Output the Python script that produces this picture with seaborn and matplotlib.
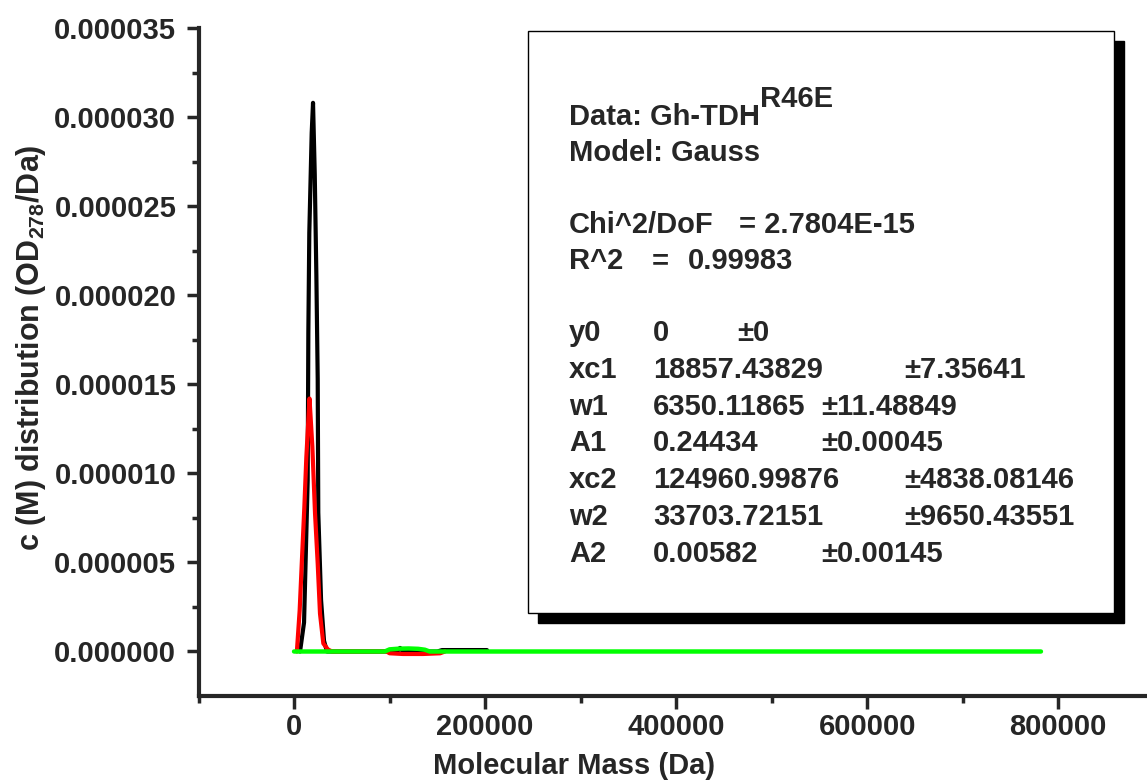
import seaborn as sns
import matplotlib.pyplot as plt
import matplotlib.ticker as mticker
from matplotlib.patches import Rectangle

# c(M) curves (Da, OD278/Da)
black_mass = [6300, 10500, 14300, 15000, 16000, 18500, 19900, 21700, 23400, 24800,
              25400, 28300, 31400, 34500, 100000, 108000, 111000, 114000, 150000, 155000, 202000]
black_c = [0, 1.63e-6, 9.6e-6, 1.79e-5, 2.35e-5, 2.91e-5, 3.08e-5, 2.68e-5, 2.11e-5, 1.53e-5,
           7.8e-6, 2.9e-6, 6e-7, 0, 0, 0, 2.0e-7, 0, 0, 8e-8, 8e-8]

red_mass = [3000, 5900, 8400, 10800, 12900, 15000, 16200, 19200, 22000, 24800,
            27200, 30700, 35600, 39800, 97000, 100000, 114000, 135000, 153000, 158000]
red_c = [0, 2.30e-6, 5.28e-6, 8.09e-6, 1.09e-5, 1.30e-5, 1.42e-5, 1.15e-5, 7.75e-6, 4.94e-6,
         2.13e-6, 4.5e-7, 1.1e-7, 0, 0, -1.0e-7, -1.4e-7, -1.4e-7, -1.0e-7, 0]

green_mass = [0, 95000, 100000, 110000, 120000, 130000, 137000, 142000, 782000]
green_c = [0, 0, 1.2e-7, 1.6e-7, 1.7e-7, 1.5e-7, 1.0e-7, 0, 0]

x_ticks = [0, 200000, 400000, 600000, 800000]
y_ticks = [0, 5e-6, 1e-5, 1.5e-5, 2e-5, 2.5e-5, 3e-5, 3.5e-5]

fit_rows = [
    ("y0", "0", "\u00b10"),
    ("xc1", "18857.43829", "\u00b17.35641"),
    ("w1", "6350.11865", "\u00b111.48849"),
    ("A1", "0.24434", "\u00b10.00045"),
    ("xc2", "124960.99876", "\u00b14838.08146"),
    ("w2", "33703.72151", "\u00b19650.43551"),
    ("A2", "0.00582", "\u00b10.00145"),
]

sns.set_style("ticks")
plt.rcParams["font.family"] = ["Liberation Sans", "DejaVu Sans"]
plt.rcParams["font.weight"] = "bold"
plt.rcParams["mathtext.fontset"] = "custom"
plt.rcParams["mathtext.rm"] = "Liberation Sans:bold"
plt.rcParams["mathtext.bf"] = "Liberation Sans:bold"

W, H = 1147, 783
FS = 21
fig = plt.figure(figsize=(W / 100, H / 100), dpi=100)
ax = fig.add_axes([198.5 / W, 1 - 695.5 / H, 1 - 198.5 / W, (695.5 - 28) / H])

sns.lineplot(x=black_mass, y=black_c, color="black", lw=3, sort=False, estimator=None, ax=ax)
sns.lineplot(x=red_mass, y=red_c, color="red", lw=3, sort=False, estimator=None, ax=ax)
sns.lineplot(x=green_mass, y=green_c, color="#00ff00", lw=3.2, sort=False, estimator=None, ax=ax)

ax.set_xlim(-100000, 893000)
ax.set_ylim(-2.47e-6, 3.5e-5)
sns.despine(ax=ax)
for s in ["left", "bottom"]:
    ax.spines[s].set_linewidth(3)

ax.set_xticks(x_ticks)
ax.set_yticks(y_ticks)
ax.xaxis.set_minor_locator(mticker.MultipleLocator(100000))
ax.yaxis.set_minor_locator(mticker.MultipleLocator(2.5e-6))
ax.xaxis.set_major_formatter(mticker.FuncFormatter(lambda v, p: f"{v:.0f}"))
ax.yaxis.set_major_formatter(mticker.FuncFormatter(lambda v, p: f"{v:.6f}"))
ax.tick_params(which="major", length=9, width=2.5, labelsize=FS, direction="out")
ax.tick_params(which="minor", length=5, width=2.5, direction="out")
ax.tick_params(axis="y", which="major", pad=7)
ax.tick_params(axis="x", which="major", pad=3.5)

ax.set_xlabel("Molecular Mass (Da)", fontsize=FS, fontweight="bold")
ax.set_ylabel(r"c (M) distribution (OD$_{278}$/Da)", fontsize=22, fontweight="bold")
ax.xaxis.label.set_va("center")
ax.xaxis.set_label_coords((574.5 - 198.5) / 948.5, -(766 - 695.5) / 667.5)
ax.yaxis.label.set_va("center")
ax.yaxis.set_label_coords((31 - 198.5) / 948.5, (695.5 - 348) / 667.5)

# fit report box with drop shadow
fig.add_artist(Rectangle((538 / W, 1 - 623 / H), 586 / W, 582 / H,
                         transform=fig.transFigure, facecolor="black", edgecolor="black", zorder=5))
fig.add_artist(Rectangle((528 / W, 1 - 613 / H), 586 / W, 582 / H,
                         transform=fig.transFigure, facecolor="white", edgecolor="black",
                         lw=1.0, zorder=6))


def put(x, y, s):
    return fig.text(x / W, 1 - y / H, s, fontsize=FS, fontweight="bold",
                    ha="left", va="baseline", zorder=7)


t_data = put(569, 125, "Data: Gh-TDH")
put(569, 161, "Model: Gauss")
put(569, 233, "Chi^2/DoF")
put(739, 233, "= 2.7804E-15")
put(569, 269, "R^2")
put(652, 269, "=")
put(688, 269, "0.99983")

err_x = {"y0": 737, "w1": 821, "A1": 821, "A2": 821, "xc1": 904, "xc2": 904, "w2": 904}
for i, (name, val, err) in enumerate(fit_rows):
    yb = 341 + i * 36.8
    put(569, yb, name)
    put(653, yb, val)
    put(err_x[name], yb, err)

# superscript right after the data name
fig.canvas.draw()
bb = t_data.get_window_extent()
fig.text(bb.x1 / W, 1 - 107 / H, "R46E", fontsize=FS, fontweight="bold",
         ha="left", va="baseline", zorder=7)

fig.savefig("out.png", dpi=100)
